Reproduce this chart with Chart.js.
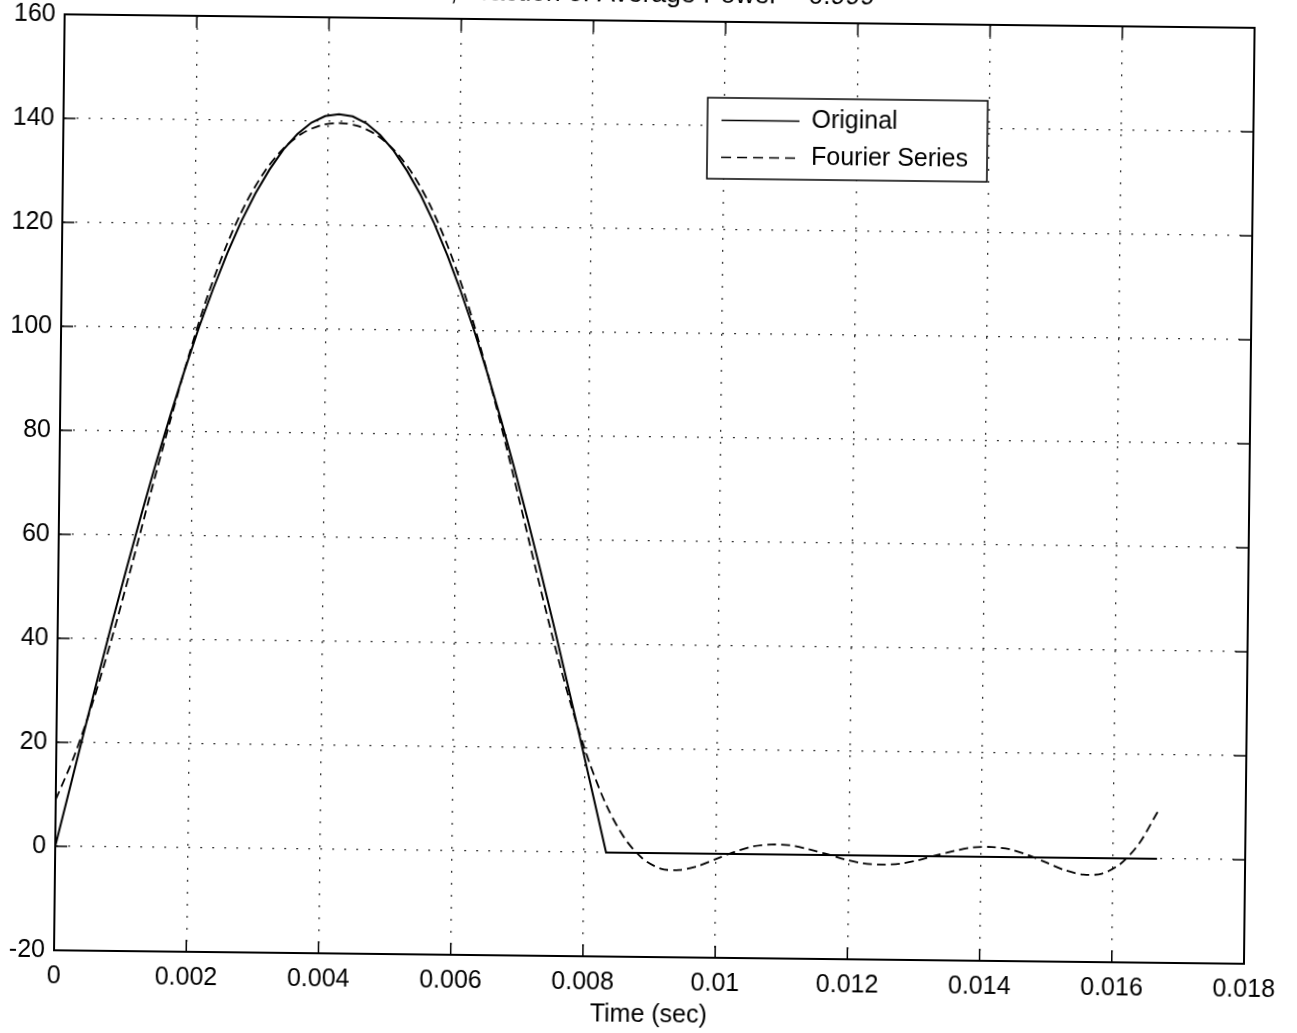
<!DOCTYPE html>
<html>
<head>
<meta charset="utf-8">
<title>Fourier Series</title>
<script src="https://cdn.jsdelivr.net/npm/chart.js@4.4.1/dist/chart.umd.min.js"></script>
<style>
  html, body { margin: 0; padding: 0; background: #fff; overflow: hidden; }
  /* the scanned figure sits a little crooked on the page */
  #wrap { position: absolute; left: 0; top: 0; width: 1297px; height: 1033px;
          transform: rotate(0.65deg); transform-origin: 648.5px 516.5px; }
  #plot { position: absolute; left: 0; top: -30px; width: 1297px; height: 1063px; }
</style>
</head>
<body>
<div id="wrap"><canvas id="plot" width="1297" height="1063"></canvas></div>
<script>
//------------------------------------------------------------------------
// data
const origTime = [0, 0.000417, 0.000625, 0.000833, 0.001042, 0.00125, 0.001458, 0.001667,
  0.001875, 0.002083, 0.002292, 0.0025, 0.002708, 0.002917, 0.003125, 0.003333, 0.003542,
  0.00375, 0.003958, 0.004167, 0.004375, 0.004583, 0.004792, 0.005, 0.005208, 0.005417,
  0.005625, 0.005833, 0.006042, 0.00625, 0.006458, 0.006667, 0.006875, 0.007083, 0.007292,
  0.0075, 0.007708, 0.007917, 0.008333, 0.016667];
const origValue = [0, 22.1, 33.0, 43.7, 54.1, 64.2, 73.9, 83.1, 91.8, 100.0, 107.5, 114.4,
  120.6, 126.0, 130.6, 134.5, 137.5, 139.7, 141.0, 141.4, 141.0, 139.7, 137.5, 134.5, 130.6,
  126.0, 120.6, 114.4, 107.5, 100.0, 91.8, 83.1, 73.9, 64.2, 54.1, 43.7, 33.0, 22.1, 0, 0];

const fourierTime = [0, 0.000278, 0.000556, 0.000833, 0.001111, 0.001389, 0.001667, 0.001944,
  0.002222, 0.0025, 0.002778, 0.003056, 0.003333, 0.003611, 0.003889, 0.004167, 0.004444,
  0.004722, 0.005, 0.005278, 0.005556, 0.005833, 0.006111, 0.006389, 0.006667, 0.006944,
  0.007222, 0.0075, 0.007778, 0.008056, 0.008333, 0.008611, 0.008889, 0.009167, 0.009444,
  0.009722, 0.01, 0.010278, 0.010556, 0.010833, 0.011111, 0.011389, 0.011667, 0.011944,
  0.012222, 0.0125, 0.012778, 0.013056, 0.013333, 0.013611, 0.013889, 0.014167, 0.014444,
  0.014722, 0.015, 0.015278, 0.015556, 0.015833, 0.016111, 0.016389, 0.016667];
const fourierValue = [9.0, 17.6, 28.3, 40.7, 54.3, 68.4, 82.1, 95.0, 106.6, 116.3, 124.2,
  130.3, 134.7, 137.6, 139.2, 139.7, 139.2, 137.6, 134.7, 130.3, 124.2, 116.3, 106.6, 95.0,
  82.1, 68.4, 54.3, 40.7, 28.3, 17.6, 9.0, 2.8, -1.1, -3.0, -3.2, -2.4, -1.0, 0.4, 1.5, 1.9,
  1.8, 1.1, 0.2, -0.8, -1.5, -1.7, -1.5, -0.8, 0.2, 1.1, 1.8, 1.9, 1.5, 0.4, -1.0, -2.4,
  -3.2, -3.0, -1.1, 2.8, 9.0];

const seriesNames = ["Original", "Fourier Series"];

const xTickValues = [0, 0.002, 0.004, 0.006, 0.008, 0.01, 0.012, 0.014, 0.016, 0.018];
const xTickLabels = ["0", "0.002", "0.004", "0.006", "0.008", "0.01", "0.012", "0.014", "0.016", "0.018"];
const yTickValues = [-20, 0, 20, 40, 60, 80, 100, 120, 140, 160];
const yTickLabels = ["-20", "0", "20", "40", "60", "80", "100", "120", "140", "160"];

const titleText = "N = 4, Fraction of Average Power = 0.999";
const xTitle = "Time (sec)";

//------------------------------------------------------------------------
const FONT = "'Liberation Sans', Arial, Helvetica, sans-serif";
Chart.defaults.font.family = FONT;
Chart.defaults.color = "#000";

function toPoints(xs, ys) {
  return xs.map((x, i) => ({ x: x, y: ys[i] }));
}

// matlab style box with inward ticks
const axesBox = {
  id: "axesBox",
  afterDatasetsDraw(chart) {
    const { ctx, chartArea: a, scales } = chart;
    ctx.save();
    ctx.strokeStyle = "#000";
    ctx.lineWidth = 2;
    ctx.strokeRect(a.left, a.top, a.right - a.left, a.bottom - a.top);
    ctx.lineWidth = 1.5;
    ctx.beginPath();
    for (const t of scales.x.ticks) {
      const px = scales.x.getPixelForValue(t.value);
      ctx.moveTo(px, a.bottom); ctx.lineTo(px, a.bottom - 12);
      ctx.moveTo(px, a.top); ctx.lineTo(px, a.top + 12);
    }
    for (const t of scales.y.ticks) {
      const py = scales.y.getPixelForValue(t.value);
      ctx.moveTo(a.left, py); ctx.lineTo(a.left + 12, py);
      ctx.moveTo(a.right, py); ctx.lineTo(a.right - 12, py);
    }
    ctx.stroke();
    ctx.restore();
  }
};

// legend box inside the plot, top right
const legendBox = {
  id: "legendBox",
  afterDraw(chart) {
    const ctx = chart.ctx;
    const a = chart.chartArea;
    const x = a.left + 644, y = a.top + 76, w = 280, h = 81;
    const rows = [22.5, 59.5];
    ctx.save();
    ctx.fillStyle = "#fff";
    ctx.fillRect(x, y, w, h);
    ctx.strokeStyle = "#000";
    ctx.lineWidth = 1.5;
    ctx.strokeRect(x, y, w, h);
    chart.data.datasets.forEach((ds, i) => {
      const ry = y + rows[i];
      ctx.beginPath();
      ctx.setLineDash(ds.legendDash || []);
      ctx.lineWidth = 1.5;
      ctx.moveTo(x + 14, ry);
      ctx.lineTo(x + 92, ry);
      ctx.stroke();
      ctx.setLineDash([]);
      ctx.fillStyle = "#000";
      ctx.font = "25px " + FONT;
      ctx.textBaseline = "middle";
      ctx.textAlign = "left";
      ctx.fillText(ds.label, x + 104, ry);
    });
    ctx.restore();
  }
};

const gridStyle = { color: "#333", lineWidth: 1.3, drawTicks: false };
const borderStyle = { display: true, color: "#000", width: 2, dash: [2, 10] };

new Chart(document.getElementById("plot"), {
  type: "line",
  data: {
    datasets: [
      {
        label: seriesNames[0],
        data: toPoints(origTime, origValue),
        borderColor: "#000",
        borderWidth: 2,
        pointRadius: 0,
        tension: 0,
      },
      {
        label: seriesNames[1],
        data: toPoints(fourierTime, fourierValue),
        borderColor: "#000",
        borderWidth: 1.8,
        borderDash: [9, 5],
        legendDash: [10, 6],
        pointRadius: 0,
        tension: 0.3,
      },
    ],
  },
  options: {
    responsive: false,
    devicePixelRatio: 1,
    animation: false,
    layout: { padding: { left: 0, right: 48, top: 0, bottom: 0 } },
    plugins: {
      legend: { display: false },
      tooltip: { enabled: false },
      title: {
        display: true,
        text: titleText,
        font: { size: 26.5, weight: "normal" },
        color: "#000",
        padding: { top: 9, bottom: 10.2 },
      },
    },
    scales: {
      x: {
        type: "linear",
        min: 0,
        max: 0.018,
        afterBuildTicks: (s) => { s.ticks = xTickValues.map((v) => ({ value: v })); },
        afterFit: (s) => { s.height = 76; },
        ticks: {
          font: { size: 25 },
          padding: 11,
          maxRotation: 0,
          autoSkip: false,
          callback: (v, i) => xTickLabels[i],
        },
        grid: gridStyle,
        border: borderStyle,
        title: {
          display: true,
          text: xTitle,
          font: { size: 25 },
          padding: { top: 0, bottom: 3 },
        },
      },
      y: {
        type: "linear",
        min: -20,
        max: 160,
        afterBuildTicks: (s) => { s.ticks = yTickValues.map((v) => ({ value: v })); },
        afterFit: (s) => { s.width = 59; },
        ticks: {
          font: { size: 25 },
          padding: 9,
          autoSkip: false,
          callback: (v, i) => yTickLabels[i],
        },
        grid: gridStyle,
        border: borderStyle,
      },
    },
  },
  plugins: [axesBox, legendBox],
});
</script>
</body>
</html>
